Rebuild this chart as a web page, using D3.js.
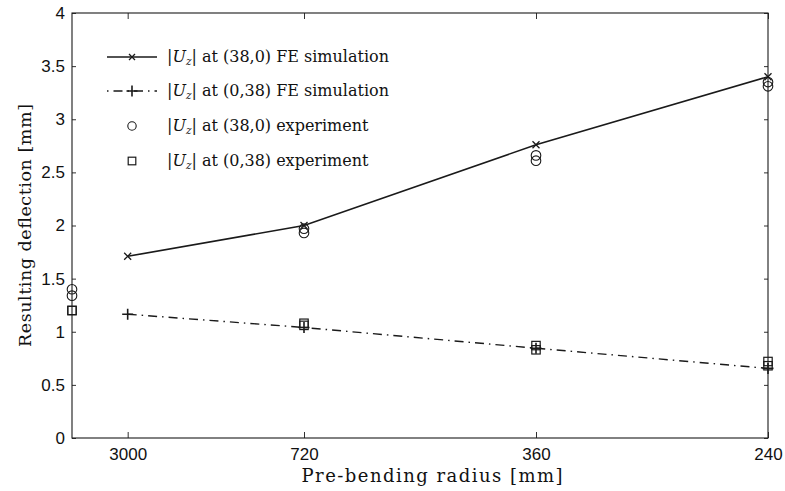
<!DOCTYPE html>
<html>
<head>
<meta charset="utf-8">
<script src="https://cdn.jsdelivr.net/npm/d3@7.9.0/dist/d3.min.js"></script>
<style>
  body { margin: 0; background: #fff; }
  svg text { fill: #111; }
  .tick-label { font-family: "Liberation Sans", Arial, sans-serif; font-size: 17px; }
  .serif { font-family: "DejaVu Serif", "Liberation Serif", serif; }
</style>
</head>
<body>
<svg id="chart" width="785" height="491"></svg>
<script>
// pre-bending radii [mm] shown on the x axis (axis is linear in curvature 1/R)
const radii = [3000, 720, 360, 240];
const yTicks = [0, 0.5, 1, 1.5, 2, 2.5, 3, 3.5, 4];

// FE simulation
const feAt380 = [1.71, 2.0, 2.76, 3.4];
const feAt038 = [1.165, 1.04, 0.845, 0.655];

// experiments (Infinity = flat plate, no pre-bending)
const expRadii = [Infinity, Infinity, 720, 720, 360, 360, 240, 240];
const expAt380 = [1.40, 1.34, 1.97, 1.93, 2.66, 2.61, 3.35, 3.31];
const expAt038 = [1.20, 1.20, 1.08, 1.06, 0.87, 0.83, 0.72, 0.68];

const legendLabels = [
  '(38,0) FE simulation',
  '(0,38) FE simulation',
  '(38,0) experiment',
  '(0,38) experiment'
];

const margin = { top: 13, right: 17, bottom: 53, left: 72 };
const width = 785, height = 491;

const svg = d3.select('#chart');

const x = d3.scaleLinear()
  .domain([0, 1 / 240])
  .range([margin.left, width - margin.right]);

const y = d3.scaleLinear()
  .domain([0, 4])
  .range([height - margin.bottom, margin.top]);

const curv = (r) => 1 / r;
const ink = '#1a1a1a';

// frame
svg.append('rect')
  .attr('x', x.range()[0])
  .attr('y', y.range()[1])
  .attr('width', x.range()[1] - x.range()[0])
  .attr('height', y.range()[0] - y.range()[1])
  .attr('fill', 'none')
  .attr('stroke', ink)
  .attr('stroke-width', 1.1);

// axes with inward ticks
const xAxis = d3.axisBottom(x)
  .tickValues(radii.map(curv))
  .tickFormat((d, i) => radii[i])
  .tickSize(-6)
  .tickPadding(10);

svg.append('g')
  .attr('transform', `translate(0,${y.range()[0]})`)
  .call(xAxis);

const yAxis = d3.axisLeft(y)
  .tickValues(yTicks)
  .tickFormat(d3.format('~g'))
  .tickSize(-4)
  .tickPadding(7);

svg.append('g')
  .attr('transform', `translate(${x.range()[0]},0)`)
  .call(yAxis);

svg.append('g')
  .attr('transform', `translate(0,${y.range()[1]})`)
  .call(d3.axisTop(x).tickValues(radii.map(curv)).tickSize(-6).tickFormat(''));

svg.append('g')
  .attr('transform', `translate(${x.range()[1]},0)`)
  .call(d3.axisRight(y).tickValues(yTicks).tickSize(-4).tickFormat(''));

svg.selectAll('.domain').remove();
svg.selectAll('.tick line').attr('stroke', ink).attr('stroke-width', 0.9);
svg.selectAll('.tick text')
  .attr('class', 'tick-label')
  .attr('font-family', null)
  .attr('font-size', null);

// series lines
const line = d3.line()
  .x((d) => x(curv(d[0])))
  .y((d) => y(d[1]));

svg.append('path')
  .datum(radii.map((r, i) => [r, feAt380[i]]))
  .attr('d', line)
  .attr('fill', 'none')
  .attr('stroke', ink)
  .attr('stroke-width', 1.6);

svg.append('path')
  .datum(radii.map((r, i) => [r, feAt038[i]]))
  .attr('d', line)
  .attr('fill', 'none')
  .attr('stroke', ink)
  .attr('stroke-width', 1.4)
  .attr('stroke-dasharray', '9,5,1.5,5');

// markers
function cross(g, cx, cy, s) {
  g.append('path')
    .attr('d', `M${cx - s},${cy - s}L${cx + s},${cy + s}M${cx - s},${cy + s}L${cx + s},${cy - s}`)
    .attr('stroke', ink).attr('stroke-width', 1.3).attr('fill', 'none');
}
function plus(g, cx, cy, s) {
  g.append('path')
    .attr('d', `M${cx - s},${cy}L${cx + s},${cy}M${cx},${cy - s}L${cx},${cy + s}`)
    .attr('stroke', ink).attr('stroke-width', 1.6).attr('fill', 'none');
}
function ring(g, cx, cy, r) {
  g.append('circle')
    .attr('cx', cx).attr('cy', cy).attr('r', r)
    .attr('fill', 'none').attr('stroke', ink).attr('stroke-width', 1.1);
}
function box(g, cx, cy, s) {
  g.append('rect')
    .attr('x', cx - s).attr('y', cy - s).attr('width', 2 * s).attr('height', 2 * s)
    .attr('fill', 'none').attr('stroke', ink).attr('stroke-width', 1.2);
}

const marks = svg.append('g');
radii.forEach((r, i) => {
  cross(marks, x(curv(r)), y(feAt380[i]), 3.5);
  plus(marks, x(curv(r)), y(feAt038[i]), 5.5);
});
expRadii.forEach((r, i) => {
  ring(marks, x(curv(r)), y(expAt380[i]), 4.8);
  box(marks, x(curv(r)), y(expAt038[i]), 4.2);
});

// legend
const legend = svg.append('g').attr('class', 'serif');
const legY = [57, 91, 126, 161];
legendLabels.forEach((lab, i) => {
  const ly = legY[i];
  if (i === 0) {
    legend.append('line').attr('x1', 107).attr('x2', 157).attr('y1', ly).attr('y2', ly)
      .attr('stroke', ink).attr('stroke-width', 1.6);
    cross(legend, 132, ly, 3);
  } else if (i === 1) {
    legend.append('line').attr('x1', 107).attr('x2', 157).attr('y1', ly).attr('y2', ly)
      .attr('stroke', ink).attr('stroke-width', 1.4).attr('stroke-dasharray', '1.5,5,9,5');
    plus(legend, 132, ly, 5.5);
  } else if (i === 2) {
    ring(legend, 132, ly, 4.2);
  } else {
    box(legend, 132, ly, 3.8);
  }
  const t = legend.append('text')
    .attr('x', 167)
    .attr('y', ly + 5)
    .attr('font-size', 16);
  t.append('tspan').text('|');
  t.append('tspan').attr('font-style', 'italic').text('U');
  t.append('tspan').attr('font-style', 'italic').attr('font-size', 10.5).attr('dy', 3).text('z');
  t.append('tspan').attr('dy', -3).text('| at ' + lab);
});

// axis titles
svg.append('text')
  .attr('class', 'serif')
  .attr('x', 432)
  .attr('y', 482)
  .attr('text-anchor', 'middle')
  .attr('font-size', 18)
  .attr('textLength', 261)
  .text('Pre-bending radius [mm]');

svg.append('text')
  .attr('class', 'serif')
  .attr('transform', `translate(31,${(y.range()[0] + y.range()[1]) / 2}) rotate(-90)`)
  .attr('text-anchor', 'middle')
  .attr('font-size', 17.5)
  .attr('textLength', 243)
  .text('Resulting deflection [mm]');
</script>
</body>
</html>
